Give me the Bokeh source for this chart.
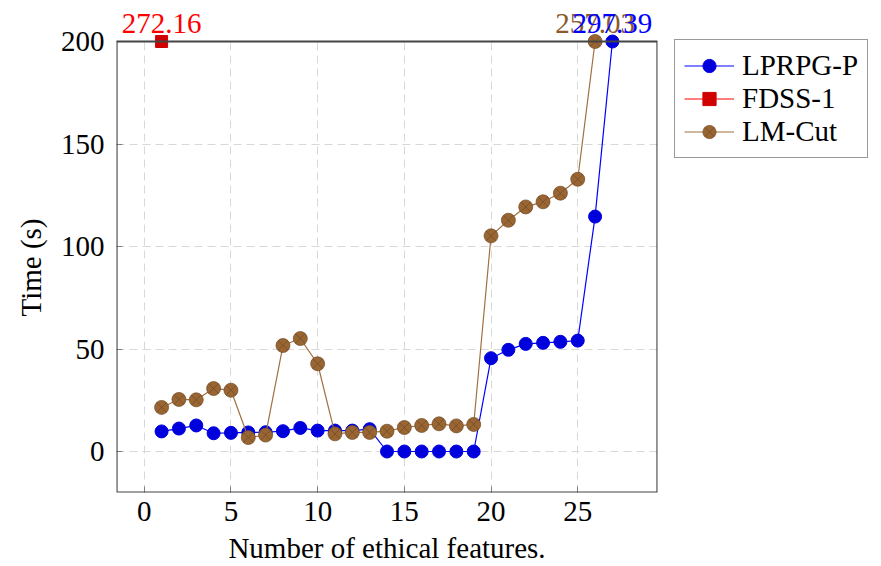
from bokeh.plotting import figure
from bokeh.models import (ColumnDataSource, Range1d, Legend, LegendItem,
                          LabelSet, FixedTicker, BoxAnnotation, Title)
from bokeh.embed import file_html
from bokeh.resources import INLINE

# ---- data ----
features = list(range(1, 28))
lprpg_p = [9.8, 11.2, 12.7, 8.9, 9.1, 9.3, 9.4, 9.9, 11.5, 10.2, 10.2, 10.2, 10.9,
           0.0, 0.0, 0.0, 0.0, 0.0, 0.0, 45.5, 49.6, 52.5, 53.0, 53.5, 54.1, 114.6, 297.39]
fdss_x = [1]
fdss_1 = [272.16]
lmcut_x = list(range(1, 27))
lm_cut = [21.5, 25.4, 25.2, 30.7, 29.9, 6.8, 8.0, 51.7, 55.1, 42.8, 8.6, 9.3, 9.3,
          9.9, 11.7, 12.7, 13.5, 12.5, 13.2, 105.2, 112.8, 119.3, 121.8, 126.0, 132.8, 257.03]
y_min, y_cap = -20, 200
x_min, x_max = -1.6, 29.6
x_ticks = [0, 5, 10, 15, 20, 25]
y_ticks = [0, 50, 100, 150, 200]

FONT = "Liberation Serif"
FS = "29px"

BLUE_L, BLUE_M = "#0000FF", "#0000DD"
RED_L, RED_M = "#FF0000", "#D00000"
BROWN_L, BROWN_M, BROWN_E = "#A0703F", "#996633", "#6E4822"

FRAME_H = 484
PLOT_H = 451  # pixel height of the data box
y_top = y_cap + (FRAME_H - PLOT_H) * (y_cap - y_min) / PLOT_H

p = figure(frame_width=541, frame_height=FRAME_H, output_backend="svg",
           toolbar_location=None,
           x_range=Range1d(x_min, x_max), y_range=Range1d(y_min, y_top),
           min_border_left=116, min_border_right=10, min_border_top=8,
           min_border_bottom=66)
p.background_fill_color = "white"
p.border_fill_color = "white"
p.outline_line_color = None

for ax in (p.xaxis[0], p.yaxis[0]):
    ax.axis_line_color = None
    ax.major_tick_in = 6
    ax.major_tick_out = 0
    ax.minor_tick_line_color = None
    ax.major_tick_line_color = "#808080"
    ax.major_label_text_font = FONT
    ax.major_label_text_font_size = FS
    ax.major_label_text_color = "black"
    ax.axis_label_text_font = FONT
    ax.axis_label_text_font_size = FS
    ax.axis_label_text_font_style = "normal"
    ax.axis_label_text_color = "black"
p.xaxis[0].ticker = FixedTicker(ticks=x_ticks)
p.yaxis[0].ticker = FixedTicker(ticks=y_ticks)
p.xaxis[0].axis_label = "Number of ethical features."
p.xaxis[0].major_label_standoff = 9
p.yaxis[0].major_label_standoff = 12
p.xaxis[0].axis_label_standoff = 8

ytitle = Title(text="Time (s)", align="left", offset=176, standoff=22,
               text_font=FONT, text_font_size=FS, text_font_style="normal",
               text_color="black")
p.add_layout(ytitle, "left")

p.xgrid.ticker = FixedTicker(ticks=x_ticks)
p.ygrid.ticker = FixedTicker(ticks=y_ticks)
for g in (p.xgrid[0], p.ygrid[0]):
    g.grid_line_color = "#D8D8D8"
    g.grid_line_dash = "8 5"
    g.grid_line_width = 1

# blank out the strip above the data box (label area)
p.add_layout(BoxAnnotation(bottom=y_cap, fill_color="white", fill_alpha=1.0,
                           line_color=None, level="underlay"))
# data box outline
p.add_layout(BoxAnnotation(left=x_min, right=x_max, bottom=y_min, top=y_cap,
                           fill_color=None, fill_alpha=0, line_color="#444444",
                           line_alpha=1.0, line_width=2.2, level="overlay"))

def capped(v):
    return [min(a, y_cap) for a in v]

src_b = ColumnDataSource(dict(x=features, y=capped(lprpg_p)))
src_r = ColumnDataSource(dict(x=fdss_x, y=capped(fdss_1)))
src_m = ColumnDataSource(dict(x=lmcut_x, y=capped(lm_cut)))

lb = p.line("x", "y", source=src_b, line_color=BLUE_L, line_width=1.2)
mb = p.scatter("x", "y", source=src_b, marker="circle", size=13,
               fill_color=BLUE_M, line_color=BLUE_M)
lr = p.line("x", "y", source=src_r, line_color=RED_L, line_width=1.2)
mr = p.scatter("x", "y", source=src_r, marker="square", size=12,
               fill_color=RED_M, line_color=RED_M)
lm = p.line("x", "y", source=src_m, line_color=BROWN_L, line_width=1.2)
mm = p.scatter("x", "y", source=src_m, marker="circle_x", size=14,
               fill_color=BROWN_M, line_color=BROWN_E, line_width=0.7)

# value labels for points beyond the cap
def over(src_x, vals):
    xs = [x for x, v in zip(src_x, vals) if v > y_cap]
    vs = [v for v in vals if v > y_cap]
    return dict(x=xs, y=[y_cap] * len(xs), t=[f"{v:.2f}" for v in vs])

for data, col in ((over(fdss_x, fdss_1), "#FF0000"),
                  (over(lmcut_x, lm_cut), "#8B5A2B"),
                  (over(features, lprpg_p), "#0000FF")):
    ls = LabelSet(x="x", y="y", text="t", source=ColumnDataSource(data),
                  text_align="center", text_baseline="alphabetic", y_offset=9,
                  text_font=FONT, text_font_size=FS, text_color=col)
    p.add_layout(ls)

legend = Legend(items=[
    LegendItem(label="LPRPG-P", renderers=[lb, mb]),
    LegendItem(label="FDSS-1", renderers=[lr, mr]),
    LegendItem(label="LM-Cut", renderers=[lm, mm]),
], location=(17, 334))
legend.label_text_font = FONT
legend.label_text_font_size = FS
legend.label_text_color = "black"
legend.border_line_color = "#333333"
legend.border_line_width = 1.2
legend.glyph_width = 50
legend.glyph_height = 33
legend.label_height = 33
legend.spacing = 0
legend.padding = 9
legend.margin = 0
legend.label_standoff = 8
p.add_layout(legend, "right")

open("out.html", "w").write(file_html(p, INLINE))
